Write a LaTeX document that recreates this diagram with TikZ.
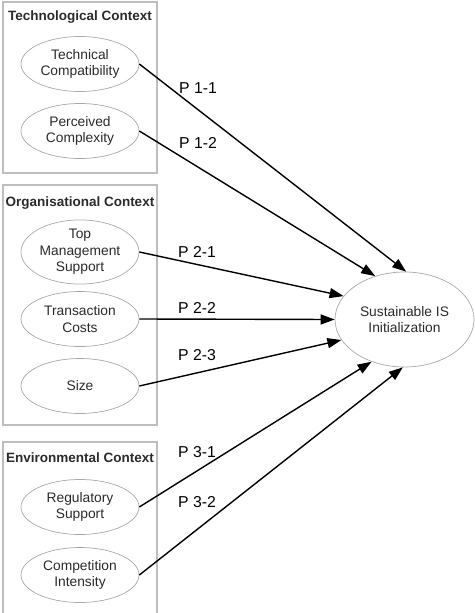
\documentclass[tikz,border=0pt]{standalone}
\usepackage{fontspec}
\setmainfont{Liberation Sans}
\usetikzlibrary{shapes.geometric,arrows.meta}
\definecolor{boxgray}{HTML}{BEBEBE}
\definecolor{ellgray}{HTML}{A8A8A8}
\definecolor{txt}{HTML}{2A2A2A}
\tikzset{
  ctxbox/.style={draw=boxgray, line width=1.2pt},
  ctxtitle/.style={font=\fontsize{13.5}{16}\selectfont\bfseries, text=txt, inner sep=0pt},
  factor/.style={ellipse, draw=ellgray, line width=0.7pt, minimum width=118pt, minimum height=55pt, inner sep=0pt, align=center, text=txt, font=\fontsize{13.8}{16.5}\selectfont},
  outcome/.style={ellipse, draw=ellgray, line width=0.7pt, minimum width=139pt, minimum height=95pt, inner sep=0pt, align=center, text=txt, font=\fontsize{13.8}{16.5}\selectfont},
  prop/.style={-{Triangle[length=14pt,width=10pt]}, line width=1.4pt, black},
  plabel/.style={font=\fontsize{15.8}{18}\selectfont, text=black, inner sep=0pt}
}
\begin{document}
\begin{tikzpicture}[x=1pt,y=-1pt]
\useasboundingbox (0,0) rectangle (474,613);
% context boxes
\draw[ctxbox] (3,2) rectangle (157,173);
\draw[ctxbox] (3,185) rectangle (157,425);
\draw[ctxbox] (3,615) -- (3,442) -- (157,442) -- (157,615);
\node[ctxtitle] (t1) at (80,17) {Technological Context};
\node[ctxtitle] (t2) at (80,203) {Organisational Context};
\node[ctxtitle] (t3) at (80,458) {Environmental Context};
% factors
\node[factor] (tc) at (80,64) {Technical\\Compatibility};
\node[factor] (pc) at (80,131) {Perceived\\Complexity};
\node[factor] (tm) at (80,252) {Top\\Management\\Support};
\node[factor] (tr) at (80,319) {Transaction\\Costs};
\node[factor] (sz) at (80,386) {Size};
\node[factor] (rs) at (80,507) {Regulatory\\Support};
\node[factor] (ci) at (80,575) {Competition\\Intensity};
% outcome
\node[outcome] (out) at (404.5,319.5) {Sustainable IS\\Initialization};
% propositions
\draw[prop] (tc.east) -- (out.88);
\draw[prop] (pc.east) -- (out.124);
\draw[prop] (tm.east) -- (out.159);
\draw[prop] (tr.east) -- (out.180);
\draw[prop] (sz.east) -- (out.198);
\draw[prop] (rs.east) -- (out.232);
\draw[prop] (ci.east) -- (out.268);
% labels
\node[plabel] (l11) at (198,88) {P 1-1};
\node[plabel] (l12) at (198,143) {P 1-2};
\node[plabel] (l21) at (197,252) {P 2-1};
\node[plabel] (l22) at (197,308) {P 2-2};
\node[plabel] (l23) at (197,355) {P 2-3};
\node[plabel] (l31) at (197,452) {P 3-1};
\node[plabel] (l32) at (197,502) {P 3-2};
\end{tikzpicture}
\end{document}
